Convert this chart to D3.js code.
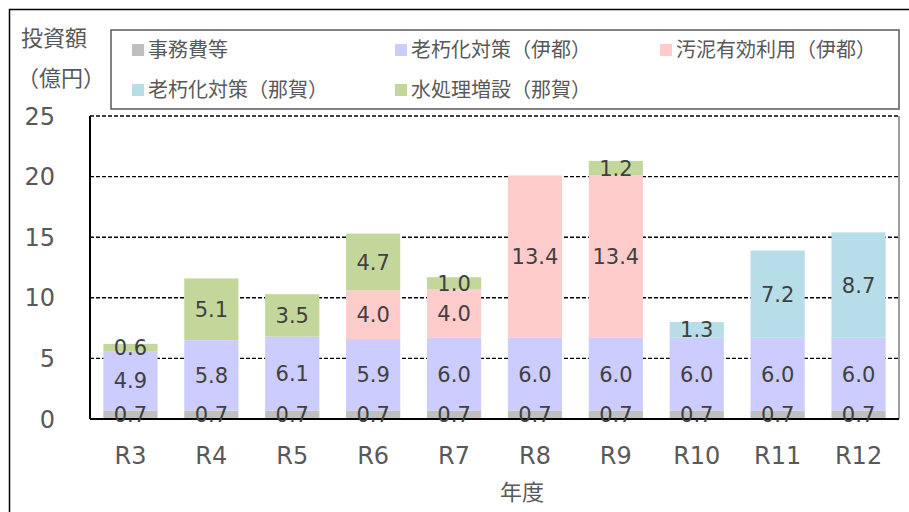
<!DOCTYPE html>
<html>
<head>
<meta charset="utf-8">
<script src="https://cdn.jsdelivr.net/npm/d3@7"></script>
<style>
  body { margin: 0; background: #fff; }
  svg text { font-family: "DejaVu Sans", Verdana, sans-serif; }
  .jp { font-family: "Noto Sans CJK JP", sans-serif; }
</style>
</head>
<body>
<div id="chart"></div>
<script>
const years = ['R3', 'R4', 'R5', 'R6', 'R7', 'R8', 'R9', 'R10', 'R11', 'R12'];
const jimu     = [0.7, 0.7, 0.7, 0.7, 0.7, 0.7, 0.7, 0.7, 0.7, 0.7];
const rouItsu  = [4.9, 5.8, 6.1, 5.9, 6.0, 6.0, 6.0, 6.0, 6.0, 6.0];
const odeiItsu = [0, 0, 0, 4.0, 4.0, 13.4, 13.4, 0, 0, 0];
const rouNaga  = [0, 0, 0, 0, 0, 0, 0, 1.3, 7.2, 8.7];
const mizuNaga = [0.6, 5.1, 3.5, 4.7, 1.0, 0, 1.2, 0, 0, 0];
const yTicks = [0, 5, 10, 15, 20, 25];

const series = [
  { key: 'jimu', name: '事務費等', values: jimu, color: '#bfbfbf' },
  { key: 'rouItsu', name: '老朽化対策（伊都）', values: rouItsu, color: '#ccccff' },
  { key: 'odeiItsu', name: '汚泥有効利用（伊都）', values: odeiItsu, color: '#ffcccc' },
  { key: 'rouNaga', name: '老朽化対策（那賀）', values: rouNaga, color: '#b7dee8' },
  { key: 'mizuNaga', name: '水処理増設（那賀）', values: mizuNaga, color: '#c4d79b' }
];

const width = 909, height = 512;
const plot = { left: 90, right: 899, top: 116, bottom: 419 };

const svg = d3.select('#chart').append('svg')
  .attr('width', width).attr('height', height);

// outer frame
svg.append('rect')
  .attr('x', 9.5).attr('y', 9.5).attr('width', 1000).attr('height', 1000)
  .attr('fill', 'none').attr('stroke', '#000').attr('stroke-width', 1.5);

const x = d3.scaleBand().domain(years)
  .range([plot.left, plot.right]).paddingInner(0.33).paddingOuter(0.165);
const y = d3.scaleLinear().domain([0, 25]).range([plot.bottom, plot.top]);

// right border of plot (gray)
svg.append('line')
  .attr('x1', plot.right).attr('x2', plot.right)
  .attr('y1', plot.top).attr('y2', plot.bottom)
  .attr('stroke', '#7f7f7f').attr('stroke-width', 1.5);

// gridlines (dashed), incl. top at 25
svg.append('g').selectAll('line')
  .data(yTicks.filter(d => d > 0))
  .enter().append('line')
  .attr('x1', plot.left).attr('x2', plot.right)
  .attr('y1', d => y(d)).attr('y2', d => y(d))
  .attr('stroke', '#000').attr('stroke-width', 1.4)
  .attr('stroke-dasharray', '4,2');

// stack
const table = years.map((yr, i) => {
  const row = { year: yr };
  series.forEach(s => { row[s.key] = s.values[i]; });
  return row;
});
const stacked = d3.stack().keys(series.map(s => s.key))(table);

const layers = svg.append('g').selectAll('g')
  .data(stacked).enter().append('g')
  .attr('fill', (d, i) => series[i].color);

layers.selectAll('rect')
  .data(d => d)
  .enter().append('rect')
  .attr('x', d => x(d.data.year))
  .attr('width', x.bandwidth())
  .attr('y', d => y(d[1]))
  .attr('height', d => y(d[0]) - y(d[1]));

// axes lines
svg.append('line')
  .attr('x1', plot.left).attr('x2', plot.left)
  .attr('y1', plot.top).attr('y2', plot.bottom)
  .attr('stroke', '#000').attr('stroke-width', 2);
svg.append('line')
  .attr('x1', plot.left).attr('x2', plot.right)
  .attr('y1', plot.bottom).attr('y2', plot.bottom)
  .attr('stroke', '#000').attr('stroke-width', 2);

// bar labels
const labels = [];
stacked.forEach(layer => {
  layer.forEach(d => {
    const v = d[1] - d[0];
    if (v > 0) labels.push({ year: d.data.year, v: v, mid: (d[0] + d[1]) / 2 });
  });
});
svg.append('g').selectAll('text')
  .data(labels).enter().append('text')
  .attr('x', d => x(d.year) + x.bandwidth() / 2)
  .attr('y', d => y(d.mid))
  .attr('dy', '0.36em')
  .attr('text-anchor', 'middle')
  .attr('font-size', 21)
  .attr('fill', '#404040')
  .text(d => d.v.toFixed(1));

// y tick labels
svg.append('g').selectAll('text')
  .data(yTicks).enter().append('text')
  .attr('x', 55).attr('y', d => y(d))
  .attr('dy', '0.36em')
  .attr('text-anchor', 'end')
  .attr('font-size', 24)
  .attr('fill', '#595959')
  .text(d => d);

// x tick labels
svg.append('g').selectAll('text')
  .data(years).enter().append('text')
  .attr('x', d => x(d) + x.bandwidth() / 2).attr('y', 455)
  .attr('dy', '0.36em')
  .attr('text-anchor', 'middle')
  .attr('font-size', 24)
  .attr('fill', '#595959')
  .text(d => d);

// axis titles
svg.append('text').attr('class', 'jp')
  .attr('x', 54).attr('y', 38).attr('dy', '0.36em')
  .attr('text-anchor', 'middle').attr('font-size', 22).attr('fill', '#595959')
  .text('投資額');
svg.append('text').attr('class', 'jp')
  .attr('x', 61).attr('y', 78).attr('dy', '0.36em')
  .attr('text-anchor', 'middle').attr('font-size', 22).attr('fill', '#595959')
  .text('（億円）');
svg.append('text').attr('class', 'jp')
  .attr('x', 522).attr('y', 492).attr('dy', '0.36em')
  .attr('text-anchor', 'middle').attr('font-size', 22).attr('fill', '#595959')
  .text('年度');

// legend
svg.append('rect')
  .attr('x', 111).attr('y', 30).attr('width', 788).attr('height', 79)
  .attr('fill', '#fff').attr('stroke', '#595959').attr('stroke-width', 1.5);

const legendPos = [[132, 50], [395, 50], [660, 50], [132, 90], [395, 90]];
const legend = svg.append('g').selectAll('g')
  .data(series).enter().append('g')
  .attr('transform', (d, i) => `translate(${legendPos[i][0]},${legendPos[i][1]})`);
legend.append('rect')
  .attr('x', 0).attr('y', -6).attr('width', 12).attr('height', 12)
  .attr('fill', d => d.color);
legend.append('text').attr('class', 'jp')
  .attr('x', 16).attr('dy', '0.36em')
  .attr('font-size', 20).attr('fill', '#595959')
  .text(d => d.name);
</script>
</body>
</html>
